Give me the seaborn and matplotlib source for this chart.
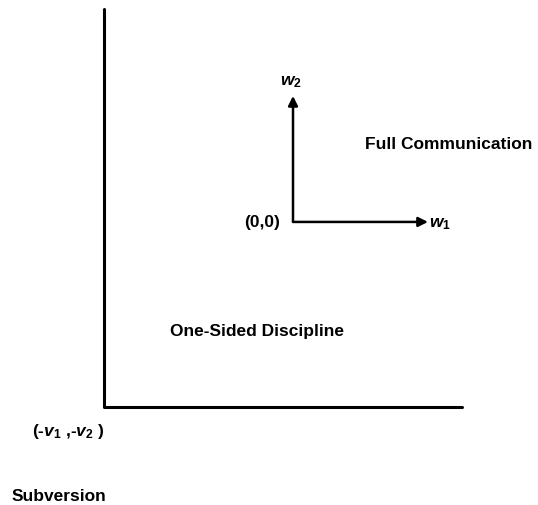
import pandas as pd
import seaborn as sns
import matplotlib.pyplot as plt

# boundary of the region: corner at (-v1, -v2)
v1, v2 = 1.0, 1.0
rand_x = [-v1, -v1, 0.894]
rand_y = [1.151, -v2, -v2]

# w-axes from the origin
w1_len = 0.714
w2_len = 0.681

sns.set_theme(style="white")
plt.rcParams["font.family"] = ["Liberation Sans", "DejaVu Sans"]
plt.rcParams["text.color"] = "black"
plt.rcParams["mathtext.fontset"] = "custom"
plt.rcParams["mathtext.it"] = "Liberation Sans:bold:italic"
plt.rcParams["mathtext.rm"] = "Liberation Sans:bold"

fig = plt.figure(figsize=(5.38, 5.06), dpi=100)
ax = fig.add_axes([0, 0, 1, 1])

df = pd.DataFrame({"x": rand_x, "y": rand_y})
sns.lineplot(data=df, x="x", y="y", sort=False, estimator=None,
             color="black", lw=2.2, ax=ax)

pil = dict(arrowstyle="-|>", color="black", lw=1.8, mutation_scale=14,
           shrinkA=0, shrinkB=0)
ax.annotate("", xy=(w1_len, 0), xytext=(0, 0), arrowprops=pil)
ax.annotate("", xy=(0, w2_len), xytext=(0, 0), arrowprops=pil)

fs = 12.5
ax.text(-0.01, 0.762, r"$w_2$", fontsize=fs, ha="center", va="center")
ax.text(0.72, -0.005, r"$w_1$", fontsize=fs, ha="left", va="center")
ax.text(-0.069, 0, "(0,0)", fontsize=fs, fontweight="bold", ha="right", va="center")
ax.text(0.381, 0.422, "Full Communication", fontsize=fs, fontweight="bold",
        ha="left", va="center")
ax.text(-0.651, -0.589, "One-Sided Discipline", fontsize=fs, fontweight="bold",
        ha="left", va="center")
ax.text(-1.381, -1.13, r"(-$v_1$ ,-$v_2$ )", fontsize=fs, fontweight="bold",
        ha="left", va="center")
ax.text(-1.487, -1.476, "Subversion", fontsize=fs, fontweight="bold",
        ha="left", va="center")

ax.set_xlim(-1.550, 1.296)
ax.set_ylim(-1.530, 1.205)
ax.set_xlabel("")
ax.set_ylabel("")
ax.axis("off")

fig.savefig("out.png", dpi=100, facecolor="white")
